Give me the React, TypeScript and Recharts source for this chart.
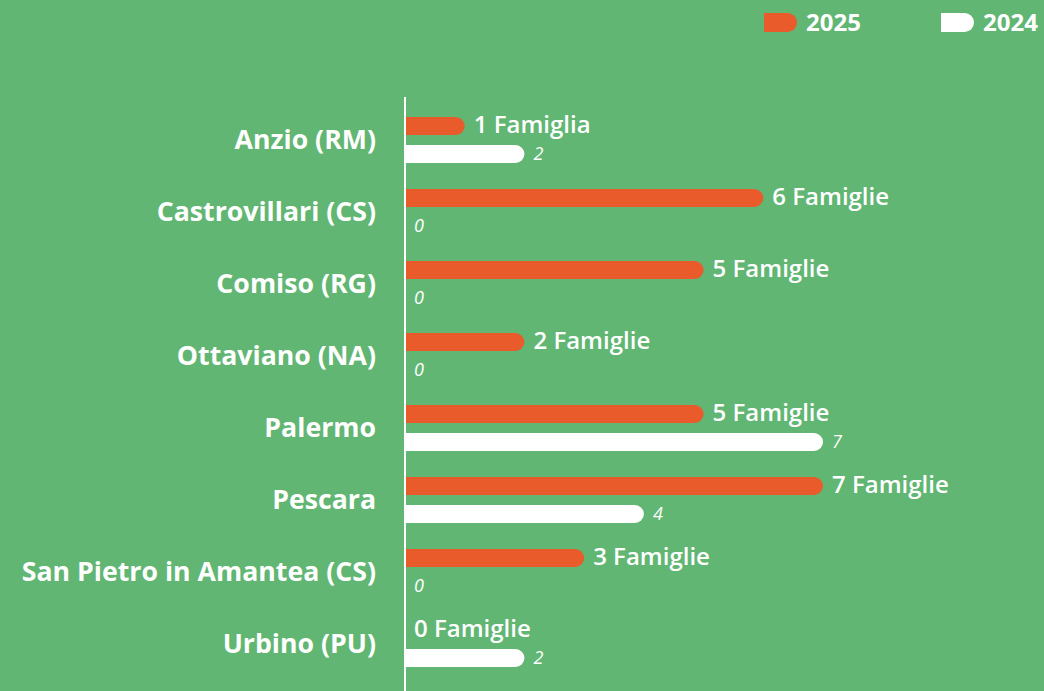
import React from 'react';
import { BarChart, Bar, XAxis, YAxis, LabelList } from 'recharts';

const categories = [
  'Anzio (RM)',
  'Castrovillari (CS)',
  'Comiso (RG)',
  'Ottaviano (NA)',
  'Palermo',
  'Pescara',
  'San Pietro in Amantea (CS)',
  'Urbino (PU)',
];
const values2025 = [1, 6, 5, 2, 5, 7, 3, 0];
const values2024 = [2, 0, 0, 0, 7, 4, 0, 2];
const seriesNames = ['2025', '2024'];

const GREEN = '#61b673';
const ORANGE = '#ea5b2b';
const WHITE = '#ffffff';
const FONT = '"Open Sans", sans-serif';

const data = categories.map((c, i) => ({ name: c, y2025: values2025[i], y2024: values2024[i] }));

const famLabel = (v: any) => (Number(v) === 1 ? `${v} Famiglia` : `${v} Famiglie`);

const LegendBlock = () => (
  <>
    {[
      { name: seriesNames[0], color: ORANGE, left: 764 },
      { name: seriesNames[1], color: WHITE, left: 941 },
    ].map((it) => (
      <div key={it.name} style={{ position: 'absolute', left: it.left, top: 7, height: 30, display: 'flex', alignItems: 'center' }}>
        <div style={{ width: 33, height: 19, background: it.color, borderRadius: '0 9.5px 9.5px 0' }} />
        <span style={{ marginLeft: 9, color: WHITE, fontFamily: FONT, fontWeight: 700, fontSize: 24, lineHeight: '30px' }}>{it.name}</span>
      </div>
    ))}
  </>
);

export default function App() {
  return (
    <div style={{ position: 'absolute', left: 0, top: 0, width: 1044, height: 691, overflow: 'hidden', background: GREEN }}>
      <LegendBlock />
      <div style={{ position: 'absolute', left: 0, top: 0 }}>
        <BarChart
          width={1044}
          height={700}
          data={data}
          layout="vertical"
          margin={{ top: 97, right: 43, bottom: 0, left: 0 }}
          barSize={18}
          barGap={10}
          barCategoryGap={13}
        >
          <XAxis type="number" domain={[0, 9.98]} hide />
          <YAxis
            type="category"
            dataKey="name"
            width={405}
            padding={{ top: 7, bottom: 20 }}
            axisLine={{ stroke: WHITE, strokeWidth: 2 }}
            tickLine={false}
            tickSize={0}
            tickMargin={29}
            interval={0}
            tick={{ fill: WHITE, fontFamily: FONT, fontWeight: 700, fontSize: 26.7 }}
          />
          <Bar dataKey="y2025" name={seriesNames[0]} fill={ORANGE} radius={[0, 9, 9, 0]} minPointSize={0.01} isAnimationActive={false}>
            <LabelList
              dataKey="y2025"
              position="right"
              offset={9}
              formatter={famLabel}
              dy={-1.5}
              style={{ fill: WHITE, fontFamily: FONT, fontWeight: 600, fontSize: 24 }}
            />
          </Bar>
          <Bar dataKey="y2024" name={seriesNames[1]} fill={WHITE} radius={[0, 9, 9, 0]} minPointSize={0.01} isAnimationActive={false}>
            <LabelList
              dataKey="y2024"
              position="right"
              offset={9}
              style={{ fill: WHITE, fontFamily: FONT, fontStyle: 'italic', fontWeight: 400, fontSize: 18 }}
            />
          </Bar>
        </BarChart>
      </div>
    </div>
  );
}
